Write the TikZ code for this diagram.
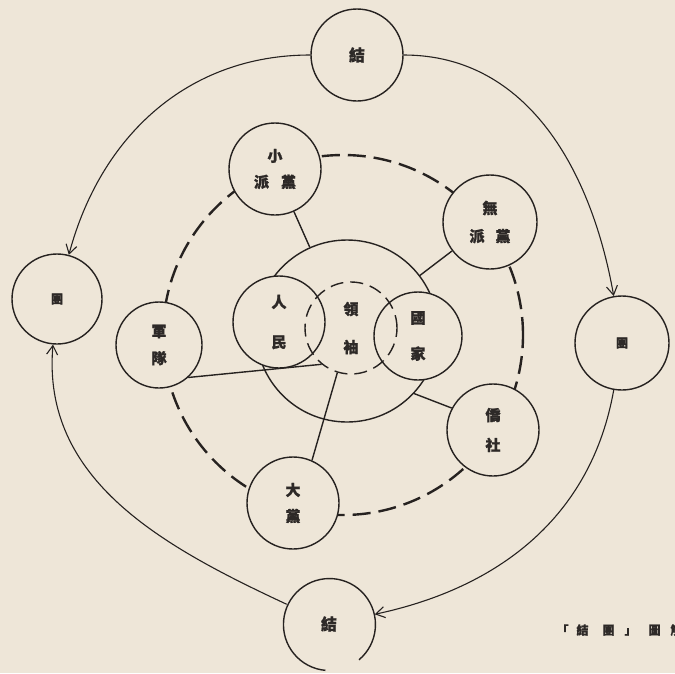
\documentclass[tikz,border=0pt]{standalone}
\usepackage{fontspec}
\newfontfamily\cjk{Noto Sans CJK TC}[BoldFeatures={FakeBold=1.2}]
\usetikzlibrary{arrows.meta}
\definecolor{paper}{RGB}{238,230,216}
\definecolor{ink}{RGB}{38,34,32}
\definecolor{txt}{RGB}{45,41,39}
\begin{document}
\begin{tikzpicture}[x=1pt,y=-1pt,
  ring/.style={circle, draw=ink, line width=1.4pt, inner sep=0pt, align=center,
    text=txt, font=\cjk\bfseries\fontsize{15}{#1}\selectfont},
  ring/.default=26,
  filled/.style={fill=paper},
  link/.style={draw=ink, line width=1.4pt},
  flow/.style={draw=ink, line width=1.1pt, -{Straight Barb[length=9pt,width=11pt,line width=1.1pt]}},
  bigdash/.style={draw=ink, line width=2.4pt, dash pattern=on 18pt off 8pt},
  smalldash/.style={dash pattern=on 13pt off 7pt},
  caption/.style={text=txt, font=\cjk\bfseries\fontsize{12}{14}\selectfont, anchor=west}
]
\fill[paper] (0,0) rectangle (675,673);
\useasboundingbox (0,0) rectangle (675,673);

% dashed orbit
\node[circle, bigdash, minimum size=360pt, inner sep=0pt] (orbit) at (343,335) {};

% big central circle
\node[ring, minimum size=182pt] (big) at (347,331) {};

% outer ring of parties
\node[ring=26, filled, minimum size=92pt] (xp) at (275,169) {小\\派\hspace{12pt}黨};
\node[ring=28, filled, minimum size=94pt] (wp) at (490,222) {無\\派\hspace{11pt}黨};
\node[ring=27, filled, minimum size=86pt] (jd) at (159,345) {軍\\隊};
\node[ring=30, filled, minimum size=92pt] (qs) at (493,430) {僑\\社};
\node[ring=26, filled, minimum size=92pt] (dd) at (293,503) {大\\黨};

% inner circles
\node[ring=40, filled, minimum size=92pt] (rm) at (279,322) {人\\民};
\node[ring=36, filled, minimum size=88pt] (gj) at (418,336) {國\\家};
\node[ring=38, smalldash, minimum size=92pt] (ls) at (351,328) {領\\袖};

% connectors
\draw[link] (xp) -- (big);
\draw[link] (wp) -- (big);
\draw[link] (qs.152) -- (big.-43);
\draw[link] (jd.-48) -- (ls.-129);
\draw[link] (dd.66) -- (ls.-107);

% outer cycle
\node[ring, minimum size=92pt, font=\cjk\bfseries\fontsize{16}{18}\selectfont] (tj) at (357,55) {結};
\node[ring, minimum size=90pt, font=\cjk\bfseries\fontsize{12}{14}\selectfont] (lt) at (57,299) {團};
\node[ring, minimum size=94pt, font=\cjk\bfseries\fontsize{12}{14}\selectfont] (rt) at (622,343) {團};
\node[ring, draw=none, minimum size=92pt, font=\cjk\bfseries\fontsize{16}{18}\selectfont] (bj) at (329,624) {結};
\draw[draw=ink, line width=1.4pt] (bj.-50) arc[start angle=-50, end angle=265, radius=46pt];

\draw[flow] (tj) to[out=180, in=75] (lt);
\draw[flow] (tj) to[out=0, in=100] (rt);
\draw[flow] (rt) to[out=-100, in=12] (bj);
\draw[flow] (bj) to[out=155, in=-95] (lt);

% caption
\node[caption] (cap) at (553,630) {「\hspace{8pt}結\hspace{14pt}團\hspace{10pt}」\hspace{12pt}圖\hspace{10pt}解};
\end{tikzpicture}
\end{document}
